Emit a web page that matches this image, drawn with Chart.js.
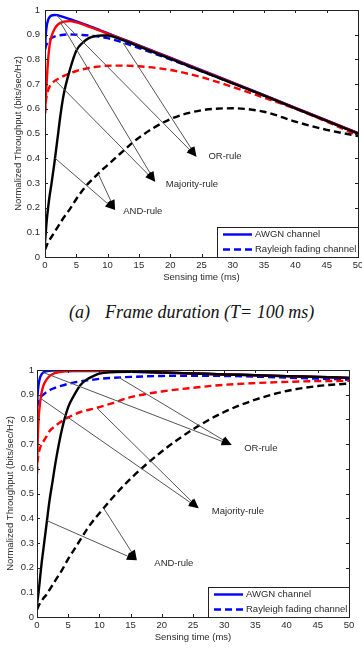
<!DOCTYPE html>
<html><head><meta charset="utf-8">
<script src="https://cdn.jsdelivr.net/npm/chart.js@4.4.1/dist/chart.umd.min.js"></script>
<style>
html,body{margin:0;padding:0;background:#fff;width:362px;height:656px;overflow:hidden;}
#wrapA{position:absolute;left:0;top:0;width:362px;height:292px;}
#wrapB{position:absolute;left:0;top:358px;width:362px;height:298px;}
#cap{position:absolute;left:69px;top:302px;font:italic 18px "Liberation Serif","Times New Roman",serif;line-height:21px;white-space:pre;color:#111;}
</style></head><body>
<div id="wrapA"><canvas id="cA" width="362" height="292"></canvas></div>
<div id="cap"><span>(a)</span><span style="margin-left:15px">Frame duration (T= 100 ms)</span></div>
<div id="wrapB"><canvas id="cB" width="362" height="298"></canvas></div>
<script>
// ---------- data ----------
const timesMs = [0,0.1,0.25,0.5,0.75,1,1.5,2,2.5,3,4,5,6,7,8,9,10,12,15,20,25,30,35,40,45,50];
const xTickLabels = ['0','5','10','15','20','25','30','35','40','45','50'];
const yTickLabels = ['0','0.1','0.2','0.3','0.4','0.5','0.6','0.7','0.8','0.9','1'];
const xTitle = 'Sensing time (ms)';
const yTitle = 'Normalized Throughput (bits/sec/Hz)';
const legendLabels = ['AWGN channel','Rayleigh fading channel'];
const ruleLabels = ['OR-rule','Majority-rule','AND-rule'];

// (a) frame duration T = 100 ms
const a_orAwgn  = [0.84,0.89,0.93,0.96,0.972,0.977,0.98,0.979,0.975,0.971,0.963,0.954,0.945,0.936,0.926,0.916,0.906,0.886,0.857,0.807,0.757,0.706,0.655,0.604,0.553,0.502];
const a_majAwgn = [0.58,0.63,0.7,0.8,0.86,0.89,0.922,0.94,0.948,0.953,0.955,0.95,0.942,0.933,0.924,0.914,0.904,0.885,0.855,0.805,0.755,0.705,0.654,0.603,0.552,0.501];
const a_andAwgn = [0.06,0.09,0.14,0.2,0.25,0.29,0.38,0.48,0.58,0.66,0.76,0.835,0.867,0.886,0.894,0.897,0.897,0.882,0.853,0.803,0.753,0.703,0.653,0.602,0.551,0.5];
const a_orRay   = [0.84,0.85,0.86,0.872,0.88,0.886,0.892,0.896,0.898,0.9,0.901,0.9,0.899,0.897,0.894,0.891,0.886,0.872,0.846,0.8,0.752,0.703,0.653,0.602,0.551,0.5];
const a_majRay  = [0.58,0.62,0.65,0.675,0.69,0.7,0.712,0.72,0.727,0.733,0.744,0.753,0.76,0.765,0.769,0.772,0.774,0.775,0.772,0.757,0.728,0.688,0.645,0.6,0.548,0.492];
const a_andRay  = [0.03,0.035,0.045,0.06,0.07,0.08,0.1,0.12,0.14,0.16,0.195,0.235,0.27,0.3,0.325,0.35,0.372,0.418,0.483,0.558,0.594,0.602,0.588,0.548,0.515,0.49];
const a_arrowFrom = [[1.8,0.98],[12.5,0.866],[2.4,0.952],[1.6,0.716],[1.6,0.40],[8.5,0.337]];
const a_arrowTo   = [[24.2,0.406],[24.2,0.406],[17.6,0.305],[17.6,0.305],[11.2,0.19],[11.2,0.19]];
const a_labelAt   = [[26.1,0.406],[19.3,0.296],[12.5,0.183]];

// (b) second frame duration
const b_orAwgn  = [0.85,0.9,0.94,0.97,0.983,0.99,0.995,0.997,0.998,0.998,0.998,0.996,0.996,0.996,0.996,0.996,0.996,0.995,0.993,0.99,0.986,0.982,0.979,0.975,0.972,0.968];
const b_majAwgn = [0.6,0.7,0.8,0.87,0.91,0.935,0.96,0.975,0.983,0.988,0.993,0.996,0.997,0.997,0.997,0.997,0.997,0.996,0.994,0.99,0.986,0.982,0.979,0.975,0.972,0.968];
const b_andAwgn = [0.05,0.07,0.1,0.16,0.22,0.27,0.37,0.47,0.55,0.63,0.76,0.85,0.9,0.94,0.962,0.975,0.985,0.991,0.993,0.99,0.986,0.982,0.979,0.975,0.972,0.968];
const b_orRay   = [0.85,0.86,0.872,0.885,0.895,0.9,0.91,0.918,0.924,0.929,0.937,0.944,0.95,0.954,0.958,0.961,0.964,0.968,0.972,0.976,0.977,0.976,0.973,0.969,0.965,0.961];
const b_majRay  = [0.58,0.63,0.66,0.685,0.7,0.71,0.73,0.752,0.765,0.775,0.793,0.808,0.82,0.83,0.837,0.843,0.85,0.865,0.89,0.913,0.928,0.94,0.947,0.952,0.955,0.956];
const b_andRay  = [0.03,0.035,0.045,0.055,0.065,0.075,0.09,0.11,0.13,0.15,0.19,0.235,0.275,0.315,0.355,0.39,0.42,0.48,0.56,0.67,0.76,0.83,0.88,0.915,0.935,0.945];
const b_arrowFrom = [[1.0,0.99],[13.1,0.97],[0.58,0.885],[9.6,0.846],[1.6,0.39],[10.7,0.44]];
const b_arrowTo   = [[31.2,0.696],[31.2,0.696],[25.9,0.44],[25.9,0.44],[16,0.23],[16,0.23]];
const b_labelAt   = [[33.2,0.683],[28,0.426],[18.8,0.216]];

// ---------- drawing ----------
const FONT = '"Liberation Sans", Arial, sans-serif';
const FS = 9.5;
const TXT = '#2a2a2a';
const BLUE = '#0000ff', RED = '#ff0000', BLACK = '#000000';
const DASH = [7,4];

function ds(vals, color, dashed){
  return {data: timesMs.map((t,i)=>({x:t,y:vals[i]})), borderColor:color, borderWidth:2.4,
    borderDash: dashed?DASH:[], pointRadius:0, cubicInterpolationMode:'monotone', fill:false};
}

const framePlugin = {
  id:'framePlugin',
  afterDatasetsDraw(chart, args, o){
    const {ctx, chartArea:a, scales:{x,y}} = chart;
    ctx.save();
    // annotation arrows
    ctx.lineWidth = 1; ctx.strokeStyle = '#555'; ctx.fillStyle = '#000';
    o.from.forEach((p,i)=>{
      const x0=x.getPixelForValue(p[0]), y0=y.getPixelForValue(p[1]);
      const x1=x.getPixelForValue(o.to[i][0]), y1=y.getPixelForValue(o.to[i][1]);
      const ang=Math.atan2(y1-y0,x1-x0), L=10, W=4;
      const bx=x1-L*Math.cos(ang), by=y1-L*Math.sin(ang);
      ctx.beginPath(); ctx.moveTo(x0,y0); ctx.lineTo(bx,by); ctx.stroke();
      ctx.beginPath(); ctx.moveTo(x1,y1);
      ctx.lineTo(bx-W*Math.sin(ang), by+W*Math.cos(ang));
      ctx.lineTo(bx+W*Math.sin(ang), by-W*Math.cos(ang));
      ctx.closePath(); ctx.fill();
    });
    ctx.font = FS+'px '+FONT; ctx.fillStyle = TXT; ctx.textBaseline='middle'; ctx.textAlign='left';
    o.labels.forEach((p,i)=> ctx.fillText(ruleLabels[i], x.getPixelForValue(p[0]), y.getPixelForValue(p[1])));
    // box
    ctx.strokeStyle = '#222'; ctx.lineWidth = 1;
    ctx.strokeRect(Math.round(a.left)+0.5, Math.round(a.top)+0.5, Math.round(a.right-a.left), Math.round(a.bottom-a.top));
    ctx.beginPath();
    y.ticks.forEach(t=>{ const py=Math.round(y.getPixelForValue(t.value))+0.5;
      ctx.moveTo(a.left,py); ctx.lineTo(a.left+3,py); ctx.moveTo(a.right-3,py); ctx.lineTo(a.right,py); });
    x.ticks.forEach(t=>{ const px=Math.round(x.getPixelForValue(t.value))+0.5;
      ctx.moveTo(px,a.bottom); ctx.lineTo(px,a.bottom-3); ctx.moveTo(px,a.top); ctx.lineTo(px,a.top+3); });
    ctx.stroke();
    // legend
    const lw=141, lh=30, lx=Math.round(a.right)-lw, ly=Math.round(a.bottom)-lh;
    ctx.fillStyle='#fff'; ctx.fillRect(lx,ly,lw,lh);
    ctx.strokeStyle='#222'; ctx.strokeRect(lx+0.5,ly+0.5,lw,lh);
    [[false,7.5],[true,22.5]].forEach((e,i)=>{
      ctx.beginPath(); ctx.strokeStyle=BLUE; ctx.lineWidth=2.4; ctx.setLineDash(e[0]?DASH:[]);
      ctx.moveTo(lx+6, ly+e[1]); ctx.lineTo(lx+35, ly+e[1]); ctx.stroke(); ctx.setLineDash([]);
      ctx.fillStyle=TXT; ctx.fillText(legendLabels[i], lx+38, ly+e[1]);
    });
    // axis titles
    ctx.textAlign='center';
    ctx.fillText(xTitle, (a.left+a.right)/2, a.bottom+20);
    ctx.save(); ctx.translate(a.left-27,(a.top+a.bottom)/2); ctx.rotate(-Math.PI/2);
    ctx.fillText(yTitle,0,0); ctx.restore();
    ctx.restore();
  }
};

function makeChart(id, vals, cfg){
  const [orA, majA, andA, orR, majR, andR] = vals;
  return new Chart(document.getElementById(id), {
    type:'line',
    data:{datasets:[ds(andA,BLACK,false), ds(majA,RED,false), ds(orA,BLUE,false),
                    ds(andR,BLACK,true), ds(majR,RED,true), ds(orR,BLUE,true)]},
    options:{
      responsive:false, animation:false, events:[],
      layout:{padding:{left:0,right:cfg.padRight,top:cfg.padTop,bottom:0}},
      plugins:{legend:{display:false}, tooltip:{enabled:false},
        framePlugin:{from:cfg.from,to:cfg.to,labels:cfg.labels}},
      scales:{
        x:{type:'linear',min:0,max:50,grid:{display:false,drawTicks:false},border:{display:false},
          ticks:{stepSize:5,padding:cfg.xPad,color:TXT,font:{family:FONT,size:FS},maxRotation:0,autoSkip:false,
            callback:(v,i)=>xTickLabels[i]},
          afterFit:s=>{s.height=cfg.xH; s.paddingLeft=0; s.paddingRight=0;}},
        y:{type:'linear',min:0,max:1,grid:{display:false,drawTicks:false},border:{display:false},
          ticks:{stepSize:0.1,padding:cfg.yPad,color:TXT,font:{family:FONT,size:FS},autoSkip:false,
            callback:(v,i)=>yTickLabels[i]},
          afterFit:s=>{s.width=cfg.yW; s.paddingTop=0; s.paddingBottom=0;}}
      }
    },
    plugins:[framePlugin]
  });
}

makeChart('cA',[a_orAwgn,a_majAwgn,a_andAwgn,a_orRay,a_majRay,a_andRay],
  {padRight:4,padTop:10,xH:35,yW:45,xPad:3,yPad:5,from:a_arrowFrom,to:a_arrowTo,labels:a_labelAt});
makeChart('cB',[b_orAwgn,b_majAwgn,b_andAwgn,b_orRay,b_majRay,b_andRay],
  {padRight:13,padTop:12,xH:39,yW:37,xPad:3,yPad:3,from:b_arrowFrom,to:b_arrowTo,labels:b_labelAt});
</script>
</body></html>
